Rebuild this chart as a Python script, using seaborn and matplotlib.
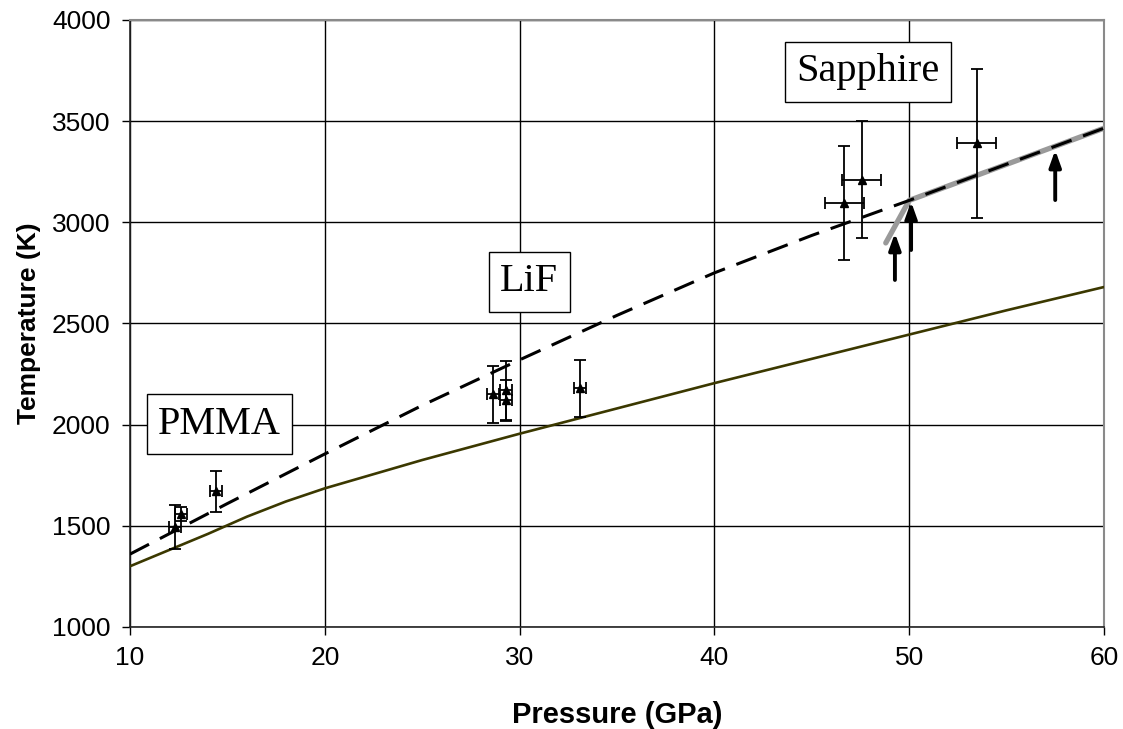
import matplotlib
matplotlib.use("Agg")
import matplotlib.pyplot as plt
import seaborn as sns
import pandas as pd

# --- data ---
# calculated curves
solid_p = [10, 12, 14, 16, 18, 20, 25, 30, 35, 40, 45, 50, 55, 60]
solid_t = [1300, 1380, 1460, 1545, 1620, 1685, 1825, 1955, 2080, 2205, 2325, 2445, 2565, 2680]

dash_p = [10, 15, 20, 25, 30, 35, 40, 45, 50, 55, 60]
dash_t = [1360, 1610, 1855, 2095, 2320, 2540, 2750, 2935, 3108, 3287, 3465]

gray_p = [48.8, 50, 60]
gray_t = [2898, 3108, 3465]

# measured points
pmma_p = [12.3, 12.6, 14.4]
pmma_t = [1495, 1560, 1670]
pmma_terr = [110, 35, 100]
pmma_perr = [0.3, 0.3, 0.3]

lif_p = [28.65, 29.3, 29.3, 33.1]
lif_t = [2150, 2170, 2120, 2180]
lif_terr = [140, 145, 100, 140]
lif_perr = [0.3, 0.3, 0.3, 0.3]

sap_p = [46.67, 47.56, 53.46]
sap_t = [3095, 3210, 3390]
sap_terr = [280, 290, 370]
sap_perr = [1.0, 1.0, 1.0]

# arrows: pressure, start T, end T
arrow_p = [49.27, 50.1, 57.5]
arrow_t0 = [2715, 2863, 3110]
arrow_t1 = [2947, 3102, 3357]

# labels: text, pressure, T
label_txt = ["PMMA", "LiF", "Sapphire"]
label_p = [14.6, 30.5, 47.9]
label_t = [2003, 2705, 3743]

# --- plotting ---
sns.set_theme(style="whitegrid")
plt.rcParams["font.family"] = ["Liberation Sans", "DejaVu Sans"]
plt.rcParams.update({"text.color": "black", "axes.labelcolor": "black",
                     "xtick.color": "black", "ytick.color": "black"})

fig = plt.figure(figsize=(11.23, 7.29), dpi=100)
ax = fig.add_axes([0.1158, 0.140, 0.8672, 0.8326])
ax.set_facecolor("white")

sns.lineplot(x=solid_p, y=solid_t, ax=ax, color="#3b3800", linewidth=1.9,
             sort=False, zorder=3)
sns.lineplot(x=gray_p, y=gray_t, ax=ax, color="#9a9a9a", linewidth=3.8,
             sort=False, zorder=3)
sns.lineplot(x=dash_p, y=dash_t, ax=ax, color="black", linewidth=2.2,
             sort=False, zorder=4)
ax.lines[-1].set_dashes((7, 4))

for p, t, te, pe in [(pmma_p, pmma_t, pmma_terr, pmma_perr),
                     (lif_p, lif_t, lif_terr, lif_perr),
                     (sap_p, sap_t, sap_terr, sap_perr)]:
    ax.errorbar(p, t, yerr=te, xerr=pe, fmt="^", color="black", ms=6,
                elinewidth=1.3, capsize=4.5, capthick=1.3, zorder=5)

for p, t0, t1 in zip(arrow_p, arrow_t0, arrow_t1):
    ax.annotate("", xy=(p, t1), xytext=(p, t0),
                arrowprops=dict(arrowstyle="-|>,head_width=0.25,head_length=0.7",
                                color="black", lw=2.8,
                                mutation_scale=14, shrinkA=0, shrinkB=0),
                zorder=6)

for txt, p, t in zip(label_txt, label_p, label_t):
    ax.text(p, t, txt, family="Liberation Serif", fontsize=29, ha="center",
            va="center", color="black", zorder=7,
            bbox=dict(boxstyle="square,pad=0.28", fc="white", ec="black", lw=1))

ax.set_xlim(10, 60)
ax.set_ylim(1000, 4000)
ax.set_xticks(range(10, 61, 10))
ax.set_yticks(range(1000, 4001, 500))
ax.grid(True, color="black", linewidth=1.0)
ax.tick_params(axis="both", direction="out", length=6, width=1, colors="black",
               labelsize=19, left=True, bottom=True, pad=8)

for side in ["left", "bottom"]:
    ax.spines[side].set_color("#222222")
    ax.spines[side].set_linewidth(1.2)
for side in ["top", "right"]:
    ax.spines[side].set_color("#8a8a8a")
    ax.spines[side].set_linewidth(1.5)

ax.set_xlabel("Pressure (GPa)", fontsize=21, fontweight="bold", labelpad=22)
ax.set_ylabel("Temperature (K)", fontsize=19, fontweight="bold", labelpad=8)

plt.savefig("out.png", dpi=100)
plt.close()
